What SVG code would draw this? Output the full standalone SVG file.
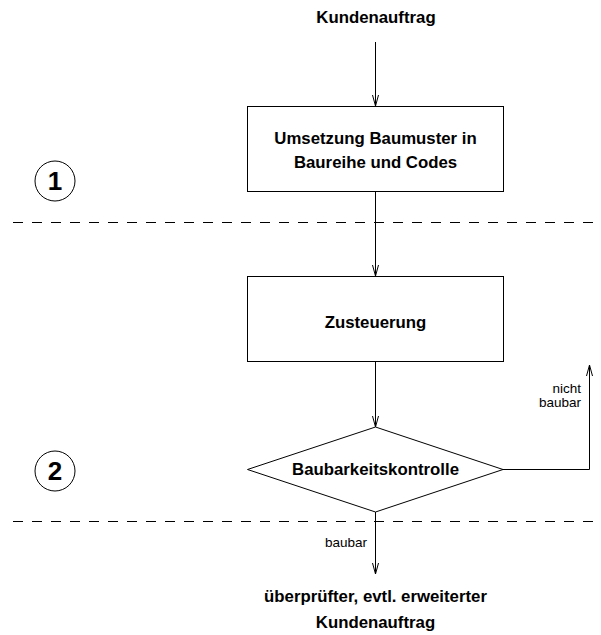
<svg xmlns="http://www.w3.org/2000/svg" width="601" height="635" viewBox="0 0 601 635">
<style>
.b{font-family:"Liberation Sans",Arial,sans-serif;font-weight:bold;font-size:16.8px;fill:#000;text-anchor:middle}
.r{font-family:"Liberation Sans",Arial,sans-serif;font-size:13.5px;fill:#000;text-anchor:end}
.n{font-family:"Liberation Sans",Arial,sans-serif;font-weight:bold;font-size:26px;fill:#000;text-anchor:middle}
.s{fill:#fff;stroke:#000;stroke-width:1}
.l{fill:none;stroke:#000;stroke-width:1}
.d{fill:none;stroke:#000;stroke-width:1;stroke-dasharray:10 9}
</style>
<defs>
<marker id="ah" viewBox="0 0 11 7" refX="11" refY="3.5" markerWidth="11" markerHeight="7" markerUnits="userSpaceOnUse" orient="auto">
<path d="M0,0.5 L11,3.5 L0,6.5" fill="none" stroke="#000" stroke-width="1"/>
</marker>
</defs>
<rect width="601" height="635" fill="#fff"/>
<g id="separators">
<line class="d" x1="13" y1="222.5" x2="595" y2="222.5"/>
<line class="d" x1="13" y1="521.5" x2="595" y2="521.5"/>
</g>
<g id="phase1">
<circle class="s" cx="55" cy="181" r="20"/>
<text class="n" x="55" y="190">1</text>
</g>
<g id="phase2">
<circle class="s" cx="55" cy="471" r="20"/>
<text class="n" x="55" y="480">2</text>
</g>
<g id="connectors">
<line class="l" x1="375.5" y1="42" x2="375.5" y2="106" marker-end="url(#ah)"/>
<line class="l" x1="375.5" y1="191" x2="375.5" y2="276" marker-end="url(#ah)"/>
<line class="l" x1="375.5" y1="361" x2="375.5" y2="427" marker-end="url(#ah)"/>
<polyline class="l" points="503,469.5 589.5,469.5 589.5,365" marker-end="url(#ah)"/>
<line class="l" x1="375.5" y1="512" x2="375.5" y2="574" marker-end="url(#ah)"/>
</g>
<g id="start">
<text class="b" x="376" y="23">Kundenauftrag</text>
</g>
<g id="umsetzung">
<rect class="s" x="247.5" y="106.5" width="256" height="85"/>
<text class="b" x="375.5" y="144">Umsetzung Baumuster in</text>
<text class="b" x="375.5" y="168">Baureihe und Codes</text>
</g>
<g id="zusteuerung">
<rect class="s" x="247.5" y="276.5" width="256" height="85"/>
<text class="b" x="375.5" y="328">Zusteuerung</text>
</g>
<g id="kontrolle">
<polygon class="s" points="375.5,427 503,469.5 375.5,512 247.5,469.5"/>
<text class="b" x="375.5" y="475">Baubarkeitskontrolle</text>
</g>
<g id="labels">
<text class="r" x="581" y="393">nicht</text>
<text class="r" x="581" y="407">baubar</text>
<text class="r" x="367" y="547">baubar</text>
</g>
<g id="end">
<text class="b" x="375.5" y="602">überprüfter, evtl. erweiterter</text>
<text class="b" x="375.5" y="628">Kundenauftrag</text>
</g>
</svg>
